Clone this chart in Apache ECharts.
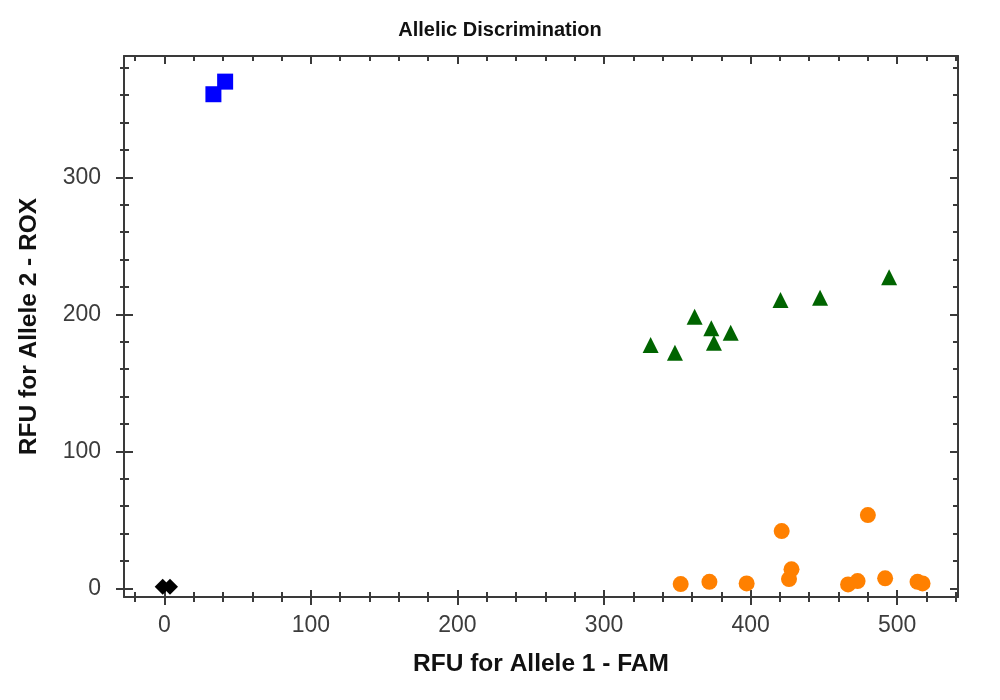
<!DOCTYPE html>
<html>
<head>
<meta charset="utf-8">
<script src="https://cdn.jsdelivr.net/npm/echarts@6/dist/echarts.min.js"></script>
<style>
  html, body { margin: 0; padding: 0; background: #fff; }
  #chart { width: 1000px; height: 700px; }
</style>
</head>
<body>
<div id="chart"></div>
<script>
// values (RFU FAM on x, RFU ROX on y)
const blueX = [33.5, 41.5]
const blueY = [360.6, 369.8]
const greenX = [331.8, 348.4, 361.8, 373.2, 375.0, 386.4, 420.4, 447.4, 494.5]
const greenY = [177.6, 172.0, 198.2, 189.8, 179.3, 186.6, 210.4, 212.1, 227.0]
const orangeX = [352.3, 371.9, 397.3, 421.2, 426.2, 427.9, 466.5, 473.0, 480.0, 491.8, 513.9, 517.3]
const orangeY = [3.1, 4.8, 3.6, 41.8, 6.8, 13.9, 2.9, 5.3, 53.5, 7.3, 4.8, 3.6]
const blackX = [-1.1, 3.9]
const blackY = [1.2, 1.2]

const xMajor = [0, 100, 200, 300, 400, 500]
const xMinor = [-20, 20, 40, 60, 80, 120, 140, 160, 180, 220, 240, 260, 280,
  320, 340, 360, 380, 420, 440, 460, 480, 520, 540]
const yMajor = [0, 100, 200, 300]
const yMinor = [20, 40, 60, 80, 120, 140, 160, 180, 220, 240, 260, 280, 320, 340, 360, 380]

const xRange = [-27.5, 541.5]
const yRange = [-6.3, 388.5]
const lineColor = '#3a3a3a'

function pairs(xs, ys) {
  return xs.map((x, i) => [x, ys[i]])
}

// extra axis that only draws ticks (used to get ticks crossing the frame)
function tickAxis(range, position, values, len, inside, showLine) {
  return {
    type: 'value',
    position: position,
    min: range[0],
    max: range[1],
    axisLine: { show: !!showLine, onZero: false, lineStyle: { color: lineColor, width: 2 } },
    axisTick: {
      show: true,
      inside: inside,
      length: len,
      customValues: values,
      lineStyle: { color: lineColor, width: 2 }
    },
    axisLabel: { show: false },
    splitLine: { show: false }
  }
}

const chart = echarts.init(document.getElementById('chart'))

const option = {
  backgroundColor: '#fff',
  animation: false,
  title: {
    text: 'Allelic Discrimination',
    left: 'center',
    top: 15,
    textStyle: { fontFamily: 'Liberation Sans', fontSize: 20, fontWeight: 'bold', color: '#111' }
  },
  grid: { left: 124, right: 42, top: 56, bottom: 103 },
  xAxis: [
    {
      type: 'value',
      position: 'bottom',
      min: xRange[0],
      max: xRange[1],
      name: 'RFU for Allele 1 - FAM',
      nameLocation: 'middle',
      nameGap: 55,
      nameTextStyle: { fontFamily: 'Liberation Sans', fontSize: 24.5, fontWeight: 'bold', color: '#111' },
      axisLine: { show: true, onZero: false, lineStyle: { color: lineColor, width: 2 } },
      axisTick: { show: true, inside: false, length: 8, customValues: xMajor, lineStyle: { color: lineColor, width: 2 } },
      axisLabel: { customValues: xMajor, margin: 17, fontFamily: 'Liberation Sans', fontSize: 23, color: '#3c3c3c' },
      splitLine: { show: false }
    },
    tickAxis(xRange, 'bottom', xMajor, 7, true),
    tickAxis(xRange, 'bottom', xMinor, 5, false),
    tickAxis(xRange, 'bottom', xMinor, 5, true),
    tickAxis(xRange, 'top', xMajor, 8, true, true),
    tickAxis(xRange, 'top', xMinor, 5, true)
  ],
  yAxis: [
    {
      type: 'value',
      position: 'left',
      min: yRange[0],
      max: yRange[1],
      name: 'RFU for Allele 2 - ROX',
      nameLocation: 'middle',
      nameGap: 82,
      nameTextStyle: { fontFamily: 'Liberation Sans', fontSize: 24.5, fontWeight: 'bold', color: '#111' },
      axisLine: { show: true, onZero: false, lineStyle: { color: lineColor, width: 2 } },
      axisTick: { show: true, inside: false, length: 8, customValues: yMajor, lineStyle: { color: lineColor, width: 2 } },
      axisLabel: { customValues: yMajor, margin: 23, fontFamily: 'Liberation Sans', fontSize: 23, color: '#3c3c3c' },
      splitLine: { show: false }
    },
    tickAxis(yRange, 'left', yMajor, 9, true),
    tickAxis(yRange, 'left', yMinor, 4, false),
    tickAxis(yRange, 'left', yMinor, 5, true),
    tickAxis(yRange, 'right', yMajor, 8, true, true),
    tickAxis(yRange, 'right', yMinor, 5, true)
  ],
  series: [
    {
      name: 'Allele 2',
      type: 'scatter',
      symbol: 'rect',
      symbolSize: 16,
      itemStyle: { color: '#0000ff', opacity: 1 },
      data: pairs(blueX, blueY)
    },
    {
      name: 'Heterozygote',
      type: 'scatter',
      symbol: 'triangle',
      symbolSize: 16,
      itemStyle: { color: '#006400', opacity: 1 },
      data: pairs(greenX, greenY)
    },
    {
      name: 'Allele 1',
      type: 'scatter',
      symbol: 'circle',
      symbolSize: 16,
      itemStyle: { color: '#ff8000', opacity: 1 },
      data: pairs(orangeX, orangeY)
    },
    {
      name: 'NTC',
      type: 'scatter',
      symbol: 'diamond',
      symbolSize: 16,
      itemStyle: { color: '#000000', opacity: 1 },
      data: pairs(blackX, blackY)
    }
  ]
}

chart.setOption(option)
</script>
</body>
</html>
